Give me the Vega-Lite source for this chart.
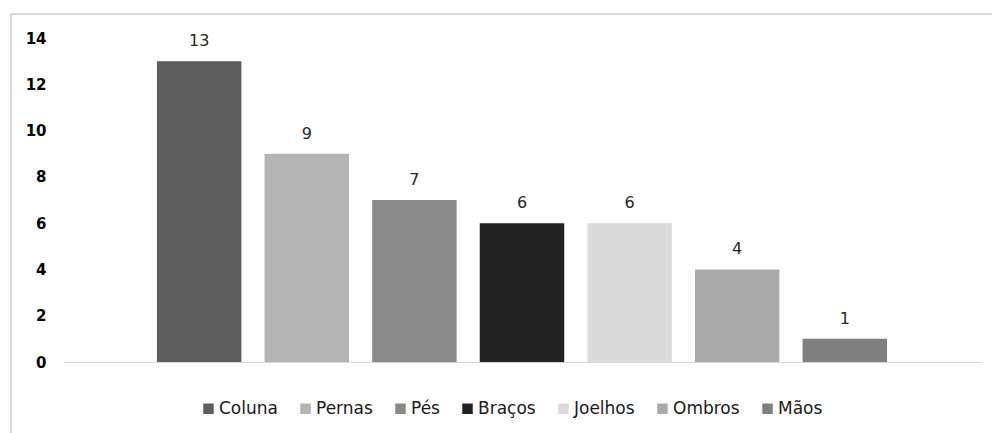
{
  "$schema": "https://vega.github.io/schema/vega-lite/v6.json",
  "autosize": {"type": "none"},
  "padding": {"left": 11, "top": 14, "right": 0, "bottom": 0},
  "width": 1000,
  "height": 440,
  "background": "#ffffff",
  "config": {
    "view": {"stroke": "#d9d9d9", "strokeWidth": 2},
    "font": "DejaVu Sans"
  },
  "data": {
    "values": [
      {"parte": "Coluna", "casos": 13},
      {"parte": "Pernas", "casos": 9},
      {"parte": "Pés", "casos": 7},
      {"parte": "Braços", "casos": 6},
      {"parte": "Joelhos", "casos": 6},
      {"parte": "Ombros", "casos": 4},
      {"parte": "Mãos", "casos": 1}
    ]
  },
  "encoding": {
    "x": {
      "field": "parte",
      "type": "nominal",
      "sort": null,
      "scale": {"range": [52, 970], "paddingInner": 0.215, "paddingOuter": 0.873},
      "axis": {
        "orient": "bottom",
        "offset": -92,
        "labels": false,
        "ticks": false,
        "title": null,
        "domainColor": "#d9d9d9",
        "domainWidth": 1
      }
    },
    "y": {
      "field": "casos",
      "type": "quantitative",
      "scale": {"domain": [0, 14], "range": [348, 24], "nice": false, "zero": true},
      "axis": {
        "orient": "left",
        "offset": -35,
        "values": [0, 2, 4, 6, 8, 10, 12, 14],
        "domain": false,
        "ticks": false,
        "grid": false,
        "title": null,
        "labelPadding": 0,
        "labelFont": "DejaVu Sans",
        "labelFontWeight": "bold",
        "labelFontSize": 15,
        "labelColor": "#000000"
      }
    }
  },
  "layer": [
    {
      "mark": {"type": "bar"},
      "encoding": {
        "color": {
          "field": "parte",
          "type": "nominal",
          "sort": null,
          "scale": {
            "domain": ["Coluna", "Pernas", "Pés", "Braços", "Joelhos", "Ombros", "Mãos"],
            "range": ["#5e5e5e", "#b4b4b4", "#898989", "#212121", "#dadada", "#aaaaaa", "#7f7f7f"]
          },
          "legend": {
            "orient": "none",
            "legendX": 189,
            "legendY": 386,
            "direction": "horizontal",
            "title": null,
            "padding": 0,
            "symbolType": "square",
            "symbolSize": 110,
            "symbolStrokeWidth": 0,
            "labelFont": "DejaVu Sans",
            "labelFontSize": 17,
            "labelColor": "#1a1a1a",
            "labelOffset": 2,
            "columnPadding": 19
          }
        }
      }
    },
    {
      "mark": {
        "type": "text",
        "baseline": "alphabetic",
        "dy": -15,
        "font": "DejaVu Sans",
        "fontSize": 16,
        "color": "#262626"
      },
      "encoding": {
        "text": {"field": "casos", "type": "quantitative"}
      }
    }
  ]
}
